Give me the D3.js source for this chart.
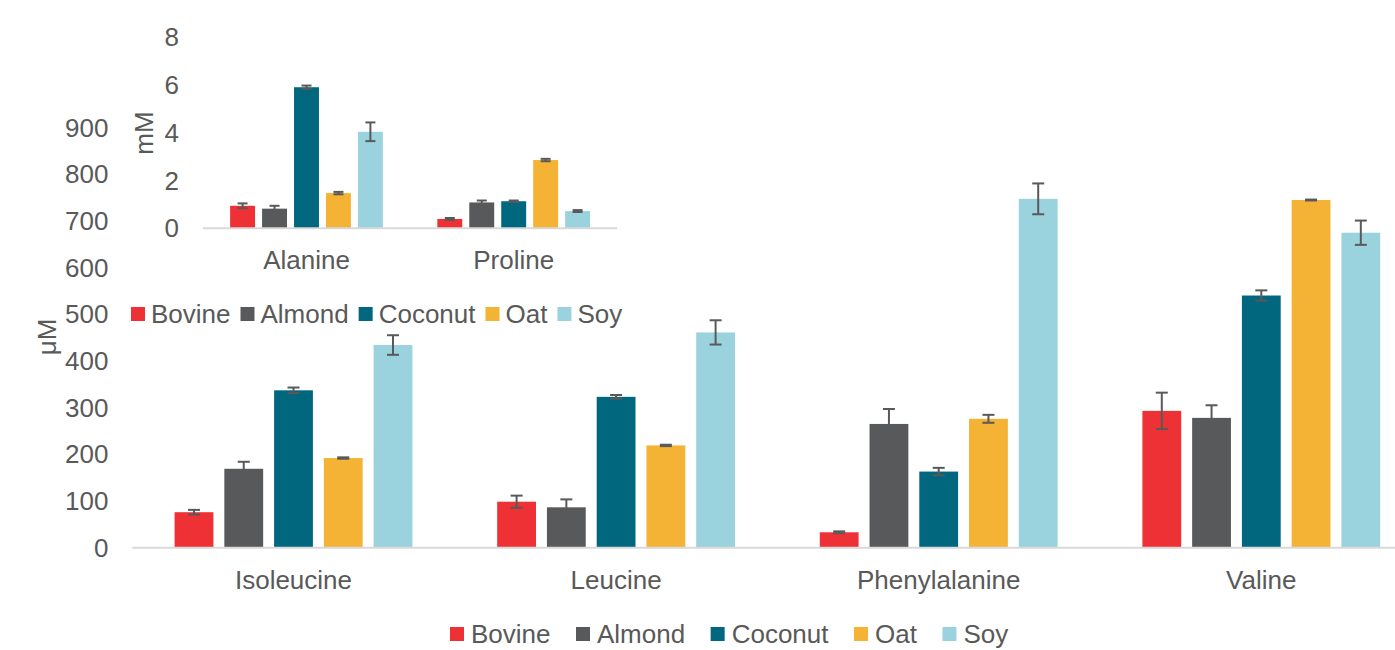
<!DOCTYPE html>
<html>
<head>
<meta charset="utf-8">
<script src="https://cdn.jsdelivr.net/npm/d3@7"></script>
<style>
  html, body { margin: 0; padding: 0; background: #fff; }
  svg { display: block; }
  text { font-family: "Liberation Sans", Arial, sans-serif; fill: #595959; }
</style>
</head>
<body>
<svg id="chart" width="1395" height="650"></svg>
<script>
// Milk types (series) and their colours
const series = ["Bovine", "Almond", "Coconut", "Oat", "Soy"];
const colors = ["#EE3135", "#58595B", "#00677F", "#F4B335", "#9AD3DE"];

// Main panel: amino acids in µM
const mainCategories = ["Isoleucine", "Leucine", "Phenylalanine", "Valine"];
const mainValues = {
  Bovine:  [76,  98.5, 33,  293],
  Almond:  [169, 86.5, 265, 278],
  Coconut: [337, 323,  163, 540],
  Oat:     [192, 219,  276, 744.5],
  Soy:     [434, 461,  747, 674.5]
};
const mainErrors = {
  Bovine:  [5,   13,  2,   39],
  Almond:  [15,  17,  32,  27],
  Coconut: [6,   4,   8,   11],
  Oat:     [1.5, 1.5, 8.5, 1],
  Soy:     [21,  26,  33,  26]
};
const mainTicks = [0, 100, 200, 300, 400, 500, 600, 700, 800, 900];

// Inset panel: amino acids in mM
const insetCategories = ["Alanine", "Proline"];
const insetValues = {
  Bovine:  [0.94, 0.39],
  Almond:  [0.82, 1.08],
  Coconut: [5.89, 1.13],
  Oat:     [1.47, 2.85],
  Soy:     [4.03, 0.72]
};
const insetErrors = {
  Bovine:  [0.10, 0.04],
  Almond:  [0.12, 0.08],
  Coconut: [0.07, 0.03],
  Oat:     [0.05, 0.05],
  Soy:     [0.39, 0.04]
};
const insetTicks = [0, 2, 4, 6, 8];

const svg = d3.select("#chart");
const FONT = 26;
const TEXT = "#595959";

function drawPanel(opts) {
  const { cats, values, errors, ticks, x0range, yrange, ymax,
          tickRight, catBaseline, capW } = opts;
  const g = svg.append("g");
  const x0 = d3.scaleBand().domain(cats).range(x0range).paddingInner(0).paddingOuter(0);
  const x1 = d3.scaleBand().domain(series).range([0, x0.bandwidth()])
    .paddingInner(0.22).paddingOuter(0.852);
  const y = d3.scaleLinear().domain([0, ymax]).range(yrange);

  // bars
  series.forEach((s, si) => {
    const gs = g.append("g");
    gs.selectAll("rect").data(cats.map((c, i) => ({ c, v: values[s][i] })))
      .join("rect")
      .attr("x", d => x0(d.c) + x1(s))
      .attr("y", d => y(d.v))
      .attr("width", x1.bandwidth())
      .attr("height", d => y(0) - y(d.v))
      .attr("fill", colors[si]);
  });

  // horizontal category axis line
  g.append("line")
    .attr("x1", x0range[0]).attr("x2", x0range[1])
    .attr("y1", y(0)).attr("y2", y(0))
    .attr("stroke", "#D9D9D9").attr("stroke-width", 2);

  // error bars
  series.forEach((s) => {
    cats.forEach((c, i) => {
      const v = values[s][i], e = errors[s][i];
      const cx = x0(c) + x1(s) + x1.bandwidth() / 2;
      const eg = g.append("g").attr("stroke", "#595959").attr("stroke-width", 2);
      eg.append("line").attr("x1", cx).attr("x2", cx).attr("y1", y(v - e)).attr("y2", y(v + e));
      [v - e, v + e].forEach(t => {
        eg.append("line").attr("x1", cx - capW / 2).attr("x2", cx + capW / 2)
          .attr("y1", y(t)).attr("y2", y(t));
      });
    });
  });

  // value axis labels
  g.selectAll("text.tick").data(ticks).join("text")
    .attr("class", "tick")
    .attr("x", tickRight)
    .attr("y", d => y(d))
    .attr("dy", "0.35em")
    .attr("text-anchor", "end")
    .style("font-size", FONT + "px")
    .text(d => d);

  // category labels
  g.selectAll("text.cat").data(cats).join("text")
    .attr("class", "cat")
    .attr("x", d => x0(d) + x0.bandwidth() / 2)
    .attr("y", catBaseline)
    .attr("text-anchor", "middle")
    .style("font-size", FONT + "px")
    .text(d => d);
}

function drawLegend(x, cy, sqGap, itemGap) {
  const g = svg.append("g");
  let cx = x;
  series.forEach((s, i) => {
    g.append("rect").attr("x", cx).attr("y", cy - 7).attr("width", 14).attr("height", 14)
      .attr("fill", colors[i]);
    const t = g.append("text").attr("x", cx + sqGap).attr("y", cy).attr("dy", "0.35em")
      .style("font-size", FONT + "px").text(s);
    cx = cx + sqGap + t.node().getComputedTextLength() + itemGap;
  });
}

// main chart (µM)
drawPanel({
  cats: mainCategories, values: mainValues, errors: mainErrors, ticks: mainTicks,
  x0range: [132.2, 1422.6], yrange: [547.7, 127.4], ymax: 900,
  tickRight: 108.5, catBaseline: 588.5, capW: 12
});

// inset chart (mM)
drawPanel({
  cats: insetCategories, values: insetValues, errors: insetErrors, ticks: insetTicks,
  x0range: [202.9, 617.3], yrange: [228.3, 36.7], ymax: 8,
  tickRight: 179, catBaseline: 269, capW: 10
});

// axis titles
svg.append("text").attr("transform", "translate(56,337) rotate(-90)")
  .attr("text-anchor", "middle").style("font-size", FONT + "px").text("μM");
svg.append("text").attr("transform", "translate(153,133) rotate(-90)")
  .attr("text-anchor", "middle").style("font-size", FONT + "px").text("mM");

// legends
drawLegend(131, 314, 20, 10);
drawLegend(450, 634, 21, 25.5);
</script>
</body>
</html>
